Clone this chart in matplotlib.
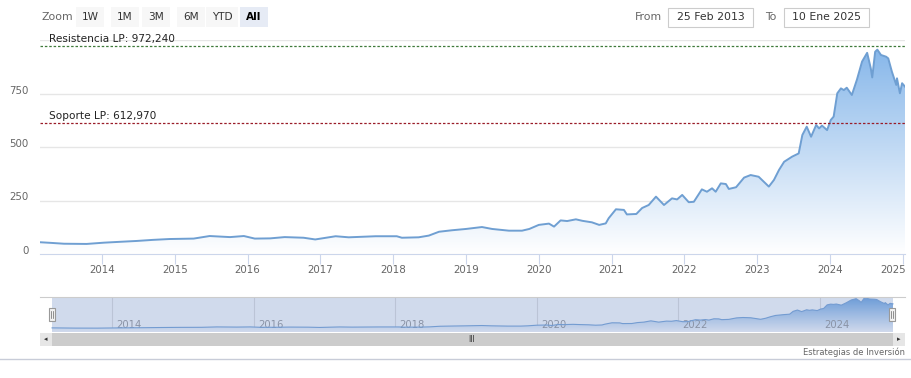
import matplotlib.pyplot as plt
import numpy as np
from matplotlib.patches import Rectangle
from matplotlib.transforms import ScaledTranslation

# --- datos (fechas en anos decimales, precio) ---
fechas = [2013.15, 2013.30, 2013.48, 2013.79, 2014.03, 2014.25, 2014.48, 2014.70,
          2014.93, 2015.26, 2015.48, 2015.76, 2015.95, 2016.10, 2016.31, 2016.51,
          2016.77, 2016.93, 2017.21, 2017.39, 2017.76, 2018.05, 2018.12, 2018.35,
          2018.49, 2018.63, 2018.81, 2019.00, 2019.22, 2019.36, 2019.59, 2019.77,
          2019.87, 2020.00, 2020.14, 2020.21, 2020.30, 2020.39, 2020.51, 2020.60,
          2020.73, 2020.83, 2020.92, 2020.96, 2021.06, 2021.17, 2021.21, 2021.34,
          2021.42, 2021.51, 2021.61, 2021.72, 2021.83, 2021.90, 2021.97, 2022.06,
          2022.13, 2022.24, 2022.31, 2022.38, 2022.43, 2022.50, 2022.57, 2022.61,
          2022.71, 2022.82, 2022.91, 2023.02, 2023.16, 2023.23, 2023.30, 2023.37,
          2023.48, 2023.57, 2023.62, 2023.68, 2023.74, 2023.81, 2023.85, 2023.89,
          2023.96, 2024.01, 2024.05, 2024.10, 2024.15, 2024.19, 2024.23, 2024.30,
          2024.37, 2024.44, 2024.51, 2024.56, 2024.58, 2024.62, 2024.65, 2024.70,
          2024.77, 2024.80, 2024.85, 2024.91, 2024.92, 2024.96, 2024.99, 2025.03]
precios = [55, 52, 48, 47, 53, 57, 61, 66,
           70, 72, 84, 79, 84, 72, 73, 79,
           76, 68, 83, 78, 83, 83, 76, 78,
           86, 104, 111, 117, 126, 117, 109, 109,
           117, 136, 142, 128, 157, 154, 162, 155,
           148, 136, 143, 167, 209, 206, 185, 187,
           215, 229, 268, 229, 260, 255, 276, 242,
           244, 302, 291, 307, 291, 330, 327, 304,
           312, 357, 369, 361, 315, 346, 393, 431,
           455, 470, 556, 595, 548, 603, 587, 600,
           579, 626, 642, 751, 774, 766, 777, 743,
           815, 899, 940, 868, 825, 945, 955, 930,
           922, 914, 852, 790, 821, 751, 798, 782]

resistencia = 972.240
soporte = 612.970
y_ticks = [0, 250, 500, 750]
anos = list(range(2014, 2026))
anos_nav = [2014, 2016, 2018, 2020, 2022, 2024]
botones = ['1W', '1M', '3M', '6M', 'YTD', 'All']

W, H = 912, 378
fig = plt.figure(figsize=(W / 100, H / 100), dpi=100)
plt.rcParams['font.family'] = 'DejaVu Sans'


def ax_px(x0, y0, x1, y1):
    return fig.add_axes([x0 / W, 1 - y1 / H, (x1 - x0) / W, (y1 - y0) / H])


def rect_px(x0, y0, x1, y1, **kw):
    r = Rectangle((x0 / W, 1 - y1 / H), (x1 - x0) / W, (y1 - y0) / H,
                  transform=fig.transFigure, **kw)
    fig.add_artist(r)


def text_px(x, y, s, **kw):
    fig.text(x / W, 1 - y / H, s, **kw)


def relleno_gradiente(ax, x, y, y0, y1, top=(124, 176, 232)):
    poly = ax.fill_between(x, y, y0, color='none', lw=0)
    t = np.linspace(1, 0, 256)[:, None]
    img = np.ones((256, 1, 4))
    for k in range(3):
        img[:, :, k] = (255 * (1 - t) + top[k] * t) / 255
    im = ax.imshow(img, extent=[x[0], x[-1], y0, y1], aspect='auto',
                   origin='upper', zorder=1, interpolation='bilinear')
    im.set_clip_path(poly.get_paths()[0], transform=ax.transData)


# --- grafico principal ---
ax = ax_px(40, 40, 905, 254)
for v in y_ticks + [1000]:
    ax.axhline(v, color='#e6e6e6', lw=1, zorder=0)
relleno_gradiente(ax, fechas, precios, 0, 1000, top=(130, 180, 233))
ax.plot(fechas, precios, color='#6f9fd2', lw=1.4, zorder=3)
ax.axhline(resistencia, color='#3f7a3a', lw=0.9, ls=(0, (2, 1.5)), zorder=4)
ax.axhline(soporte, color='#9a1c28', lw=0.9, ls=(0, (2, 1.5)), zorder=4)
ax.text(2013.28, resistencia + 8, 'Resistencia LP: 972,240', fontsize=7.6,
        color='#222222', va='bottom')
ax.text(2013.28, soporte + 8, 'Soporte LP: 612,970', fontsize=7.6,
        color='#222222', va='bottom')
ax.set_xlim(fechas[0], fechas[-1])
ax.set_ylim(0, 1000)
ax.set_yticks(y_ticks)
ax.set_xticks(anos)
ax.set_xticklabels([str(a) for a in anos])
ax.tick_params(axis='y', length=0, pad=8, labelsize=7.4, labelcolor='#666666')
ax.tick_params(axis='x', length=7, width=0.8, color='#ccd6eb', pad=0.8,
               labelsize=7.4, labelcolor='#666666')
# etiquetas del eje y un poco por encima de la linea
arriba = ScaledTranslation(0, 4 / 100, fig.dpi_scale_trans)
for lab in ax.get_yticklabels():
    lab.set_transform(lab.get_transform() + arriba)
ax.get_xticklabels()[-1].set_horizontalalignment('right')
ax.get_xticklabels()[-1].set_transform(
    ax.get_xticklabels()[-1].get_transform() + ScaledTranslation(3 / 100, 0, fig.dpi_scale_trans))
for s in ['top', 'right', 'left']:
    ax.spines[s].set_visible(False)
ax.spines['bottom'].set_color('#ccd6eb')

# --- navegador ---
nav = ax_px(40, 297, 905, 332)
nav.set_xlim(2012.98, 2025.20)
nav.set_ylim(-70, 990)
for a in anos_nav:
    nav.axvline(a, color='#e0e0e0', lw=0.8, zorder=0)
    nav.text(a + 0.06, 0.2, str(a), transform=nav.get_xaxis_transform(),
             fontsize=7.2, color='#999999', va='center')
relleno_gradiente(nav, fechas, precios, -70, 990, top=(110, 165, 225))
nav.plot(fechas, precios, color='#7aa6d8', lw=0.8, zorder=3)
nav.axvspan(fechas[0], fechas[-1], color=(102 / 255, 133 / 255, 194 / 255),
            alpha=0.3, lw=0, zorder=4)
nav.set_xticks([])
nav.set_yticks([])
for s in nav.spines.values():
    s.set_visible(False)
fig.add_artist(plt.Line2D([40 / W, 905 / W], [1 - 297 / H] * 2,
                          transform=fig.transFigure, color='#cccccc', lw=0.8))

# tiradores
for hx in (52, 892):
    rect_px(hx - 3, 308, hx + 3, 321, facecolor='#f2f2f2', edgecolor='#999999',
            lw=0.8, zorder=6)
    for dx in (-1, 1):
        fig.add_artist(plt.Line2D([(hx + dx) / W] * 2, [1 - 311 / H, 1 - 318 / H],
                                  transform=fig.transFigure, color='#666666',
                                  lw=0.5, zorder=7))

# barra de desplazamiento
rect_px(40, 333, 905, 346, facecolor='#f2f2f2', edgecolor='none')
rect_px(52, 333, 893, 346, facecolor='#cccccc', edgecolor='none')
rect_px(40, 333, 52, 346, facecolor='#e6e6e6', edgecolor='none')
rect_px(893, 333, 905, 346, facecolor='#e6e6e6', edgecolor='none')
text_px(46, 339.5, '◂', fontsize=5, color='#333333', ha='center', va='center')
text_px(899, 339.5, '▸', fontsize=5, color='#333333', ha='center', va='center')
text_px(472, 339.5, 'III', fontsize=5.5, color='#333333', ha='center', va='center')

# pie
fig.add_artist(plt.Line2D([0, 1], [1 - 359 / H] * 2, transform=fig.transFigure,
                          color='#c8ccd8', lw=1))
text_px(905, 352, 'Estrategias de Inversión', fontsize=6, color='#666666',
        ha='right', va='center')

# --- selector de rango ---
text_px(42, 17, 'Zoom', fontsize=7.8, color='#666666', va='center')
centros = [90, 125, 156, 191, 222, 254]
for b, cx in zip(botones, centros):
    w = 31 if b == 'YTD' else 28
    sel = b == 'All'
    rect_px(cx - w / 2, 7, cx + w / 2, 27,
            facecolor='#e6ebf5' if sel else '#f7f7f7', edgecolor='none')
    text_px(cx, 17, b, fontsize=7.6, color='#000000' if sel else '#333333',
            ha='center', va='center', fontweight='bold' if sel else 'normal')

text_px(662, 17, 'From', fontsize=7.8, color='#666666', ha='right', va='center')
rect_px(668, 8, 753, 27, facecolor='white', edgecolor='#cccccc', lw=0.8)
text_px(710.5, 17.5, '25 Feb 2013', fontsize=7.8, color='#333333',
        ha='center', va='center')
text_px(776, 17, 'To', fontsize=7.8, color='#666666', ha='right', va='center')
rect_px(784, 8, 869, 27, facecolor='white', edgecolor='#cccccc', lw=0.8)
text_px(826.5, 17.5, '10 Ene 2025', fontsize=7.8, color='#333333',
        ha='center', va='center')

fig.savefig('out.png', dpi=100)
